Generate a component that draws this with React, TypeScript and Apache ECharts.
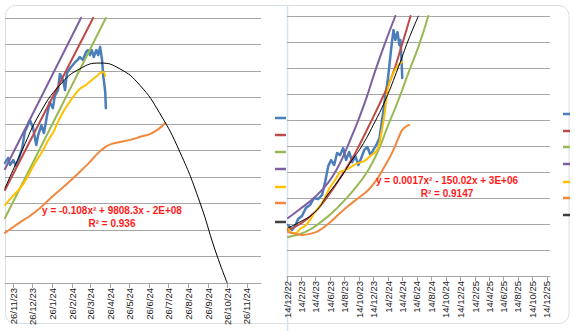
import React, { useEffect, useRef } from "react";
import * as echarts from "echarts";

// ---------- tick labels ----------
const leftTickLabels = ["26/11/23","26/12/23","26/1/24","26/2/24","26/3/24","26/4/24","26/5/24","26/6/24","26/7/24","26/8/24","26/9/24","26/10/24","26/11/24"];
const rightTickLabels = ["14/12/22","14/2/23","14/4/23","14/6/23","14/8/23","14/10/23","14/12/23","14/2/24","14/4/24","14/6/24","14/8/24","14/10/24","14/12/24","14/2/25","14/4/25","14/6/25","14/8/25","14/10/25","14/12/25"];
const leftRange = ["2023-11-13", "2024-12-18"];
const rightRange = ["2022-12-14", "2025-12-27"];

// ---------- left panel data ----------
const lBlueX = ["2023-11-13","2023-11-18","2023-11-21","2023-11-26","2023-11-30","2023-12-05","2023-12-10","2023-12-14","2023-12-19","2023-12-22","2023-12-27","2024-01-01","2024-01-04","2024-01-09","2024-01-13","2024-01-18","2024-01-22","2024-01-27","2024-01-30","2024-02-04","2024-02-07","2024-02-12","2024-02-15","2024-02-18","2024-02-23","2024-02-26","2024-03-02","2024-03-06","2024-03-09","2024-03-14","2024-03-19","2024-03-22","2024-03-25","2024-03-28","2024-03-31","2024-04-04","2024-04-07","2024-04-10","2024-04-13","2024-04-15","2024-04-18","2024-04-19"];
const lBlueY = [45.3,47.2,44.5,46.4,44.2,47.2,50.9,57.0,59.6,61.5,58.5,52.1,55.8,59.6,56.6,63.4,68.3,66.0,70.6,72.8,78.9,76.6,72.8,79.2,81.1,81.9,83.4,84.2,85.3,84.2,87.2,87.9,86.0,87.9,85.3,87.9,86.0,89.1,84.2,78.1,72.1,66.0];
const lYellowX = ["2023-11-13","2023-11-24","2023-12-07","2023-12-19","2023-12-30","2024-01-10","2024-01-19","2024-01-27","2024-02-04","2024-02-12","2024-02-20","2024-02-29","2024-03-09","2024-03-19","2024-03-28","2024-04-05","2024-04-10","2024-04-15","2024-04-18"];
const lYellowY = [29.4,32.5,35.8,40.4,45.3,49.4,53.6,56.6,60.8,64.5,67.5,70.6,73.2,74.7,76.6,78.1,79.2,79.6,78.1];
const lOrangeX = ["2023-11-13","2023-11-24","2023-12-07","2023-12-22","2024-01-07","2024-01-22","2024-02-07","2024-02-23","2024-03-09","2024-03-25","2024-04-07","2024-04-18","2024-04-28","2024-05-11","2024-05-27","2024-06-11","2024-06-27","2024-07-08","2024-07-16","2024-07-21"];
const lOrangeY = [18.9,20.8,23.0,25.3,28.3,31.7,35.1,38.5,41.9,45.7,49.1,51.3,52.5,53.2,54.0,55.1,56.2,57.7,59.2,60.4];
const lPurpleX = ["2023-11-13","2024-03-11"];
const lPurpleY = [43.0,100];
const lRedX = ["2023-11-13","2024-03-30"];
const lRedY = [35.1,100];
const lGreenX = ["2023-11-13","2024-04-19"];
const lGreenY = [24.5,100];
const lTrendX = ["2023-11-13","2023-12-10","2024-01-07","2024-02-07","2024-03-09","2024-04-10","2024-05-11","2024-06-11","2024-07-12","2024-08-13","2024-09-13","2024-10-07","2024-10-26"];
const lTrendY = [35.8,50.2,64.2,74.7,80.8,83.0,80.8,74.7,64.2,49.4,30.6,12.5,0];

// ---------- right panel data ----------
const rBlueX = ["2022-12-18","2023-01-04","2023-01-17","2023-01-30","2023-02-15","2023-03-04","2023-03-21","2023-04-07","2023-04-24","2023-05-11","2023-05-24","2023-06-06","2023-06-18","2023-07-01","2023-07-13","2023-07-26","2023-08-08","2023-08-20","2023-09-02","2023-09-15","2023-09-28","2023-10-11","2023-10-23","2023-11-05","2023-11-18","2023-12-01","2023-12-13","2023-12-26","2024-01-08","2024-01-16","2024-01-25","2024-02-02","2024-02-11","2024-02-19","2024-02-28","2024-03-07","2024-03-15","2024-03-24","2024-04-01","2024-04-05","2024-04-09","2024-04-13"];
const rBlueY = [19.6,17.7,19.2,21.9,23.1,26.2,27.3,30.0,29.6,31.2,36.2,42.3,44.6,42.7,47.3,46.5,49.2,44.6,47.7,43.8,46.2,42.7,45.4,48.5,49.6,46.5,48.5,50.4,53.1,58.1,63.8,69.6,74.6,81.2,88.8,94.6,90.8,93.8,88.8,90.8,85.0,76.2];
const rYellowX = ["2022-12-18","2023-01-04","2023-01-21","2023-02-07","2023-02-28","2023-03-21","2023-04-11","2023-05-02","2023-05-24","2023-06-14","2023-07-05","2023-07-26","2023-08-20","2023-09-15","2023-10-11","2023-11-05","2023-12-01","2023-12-22","2024-01-04","2024-01-16","2024-01-29","2024-02-06","2024-02-14","2024-03-02","2024-03-19","2024-04-05","2024-04-13"];
const rYellowY = [18.5,16.5,16.5,18.1,19.2,21.5,24.6,26.9,30.4,34.2,36.9,40.0,40.8,42.3,43.5,44.2,46.2,47.7,49.6,55.0,61.9,67.7,72.7,77.3,80.0,81.9,82.3];
const rOrangeX = ["2022-12-18","2023-01-17","2023-02-15","2023-03-21","2023-04-24","2023-06-06","2023-07-17","2023-08-29","2023-10-11","2023-11-22","2023-12-26","2024-01-21","2024-02-14","2024-03-07","2024-03-28","2024-04-13","2024-04-26","2024-05-13"];
const rOrangeY = [16.9,16.2,15.8,16.2,17.3,20.0,23.5,26.9,30.0,33.1,36.9,40.8,44.6,48.5,53.1,56.2,57.3,58.1];
const rPurpleX = ["2022-12-18","2023-02-07","2023-04-11","2023-06-05","2023-07-17","2023-08-20","2023-09-15","2023-10-11","2023-11-14","2023-12-22","2024-02-02","2024-03-15"];
const rPurpleY = [22.3,25.8,30.4,35.8,41.9,48.5,54.2,60.0,68.5,79.2,90.0,100];
const rRedX = ["2022-12-18","2023-02-07","2023-04-11","2023-06-05","2023-07-26","2023-09-11","2023-10-11","2023-11-22","2024-01-16","2024-02-28","2024-04-09","2024-05-18"];
const rRedY = [17.7,20.0,24.6,30.8,37.7,44.6,49.6,57.3,67.7,76.5,88.1,100];
const rGreenX = ["2022-12-18","2023-02-28","2023-05-07","2023-07-17","2023-09-28","2023-11-22","2024-01-04","2024-02-14","2024-03-28","2024-05-09","2024-06-20","2024-08-01"];
const rGreenY = [15.0,16.9,20.8,26.5,33.8,40.8,48.5,58.1,67.7,78.1,88.1,100];
const rTrendX = ["2022-12-18","2023-02-07","2023-04-11","2023-06-05","2023-07-30","2023-09-11","2023-10-23","2023-12-13","2024-02-02","2024-03-28","2024-05-09","2024-06-20"];
const rTrendY = [18.5,20.8,24.6,31.5,38.1,44.2,49.6,58.1,67.7,80.4,90.8,100];

const leftEquation = ["y = -0.108x² + 9808.3x - 2E+08", "R² = 0.936"];
const rightEquation = ["y = 0.0017x² - 150.02x + 3E+06", "R² = 0.9147"];

const COLORS = {
  blue: "#4a7ebb",
  red: "#be4b48",
  green: "#98b954",
  purple: "#7d60a0",
  yellow: "#ffc000",
  orange: "#f0883e",
  trend: "#000000",
};
const legendColors = [COLORS.blue, COLORS.red, COLORS.green, COLORS.purple, COLORS.yellow, COLORS.orange, "#404040"];

function ts(s: string): number {
  const [y, m, d] = s.split("-").map(Number);
  return Date.UTC(y, m - 1, d);
}
function tickTs(label: string): number {
  const [d, m, y] = label.split("/").map(Number);
  return Date.UTC(2000 + y, m - 1, d);
}
function pairs(xs: string[], ys: number[]) {
  return xs.map((x, i) => [ts(x), ys[i]]);
}

export default function App() {
  const ref = useRef<HTMLDivElement>(null);
  useEffect(() => {
    if (!ref.current) return;
    const chart = echarts.init(ref.current, undefined, { renderer: "svg" });
    const leftTicks = leftTickLabels.map(tickTs);
    const rightTicks = rightTickLabels.map(tickTs);
    const labelMap = new Map<number, string>();
    leftTickLabels.forEach((l, i) => labelMap.set(leftTicks[i], l));
    rightTickLabels.forEach((l, i) => labelMap.set(rightTicks[i], l));

    const gridColor = "#a6a6a6";
    const mkX = (idx: number, range: string[], ticks: number[]) => ({
      type: "value",
      gridIndex: idx,
      min: ts(range[0]),
      max: ts(range[1]),
      scale: true,
      splitLine: { show: false },
      axisLine: { show: true, onZero: false, lineStyle: { color: gridColor, width: 1 } },
      axisTick: { show: true, customValues: ticks, length: 5, lineStyle: { color: gridColor } },
      axisLabel: {
        customValues: ticks,
        rotate: 90,
        margin: 5,
        fontSize: 9.5,
        fontFamily: "Liberation Sans",
        color: "#1a1a1a",
        showMinLabel: true,
        showMaxLabel: true,
        hideOverlap: false,
        formatter: (v: number) => labelMap.get(Number(v)) ?? "",
      },
    });
    const mkY = (idx: number) => ({
      type: "value",
      gridIndex: idx,
      min: 0,
      max: 100,
      interval: 10,
      axisLabel: { show: false },
      axisLine: { show: false },
      axisTick: { show: false },
      splitLine: { show: true, lineStyle: { color: gridColor, width: 1 } },
    });
    const line = (idx: number, xs: string[], ys: number[], color: string, width: number, smooth: number | boolean) => ({
      type: "line",
      xAxisIndex: idx,
      yAxisIndex: idx,
      data: pairs(xs, ys),
      showSymbol: false,
      symbol: "none",
      smooth,
      lineStyle: { color, width, join: "round", cap: "round" },
      clip: true,
      silent: true,
    });

    const legendMarks = (x1: number, x2: number, ys: number[]) =>
      legendColors.map((c, i) => ({
        type: "line",
        shape: { x1, y1: ys[i], x2, y2: ys[i] },
        style: { stroke: c, lineWidth: 2.5 },
      }));

    const eqText = (lines: string[], cx: number, y: number) =>
      lines.map((t, i) => ({
        type: "text",
        x: cx,
        y: y + i * 13.5,
        style: {
          text: t,
          fill: "#ff1a1a",
          font: "bold 10px 'Liberation Sans'",
          align: "center",
          verticalAlign: "middle",
        },
        z: 100,
      }));

    chart.setOption({
      animation: false,
      backgroundColor: "#ffffff",
      grid: [
        { left: 5, top: 18, width: 256, height: 265 },
        { left: 287, top: 16, width: 263, height: 260 },
      ],
      xAxis: [mkX(0, leftRange, leftTicks), mkX(1, rightRange, rightTicks)],
      yAxis: [mkY(0), mkY(1)],
      series: [
        line(0, lBlueX, lBlueY, COLORS.blue, 2.5, false),
        line(0, lRedX, lRedY, COLORS.red, 2, false),
        line(0, lGreenX, lGreenY, COLORS.green, 2, false),
        line(0, lPurpleX, lPurpleY, COLORS.purple, 2, false),
        line(0, lYellowX, lYellowY, COLORS.yellow, 2, 0.3),
        line(0, lOrangeX, lOrangeY, COLORS.orange, 2, 0.3),
        line(0, lTrendX, lTrendY, COLORS.trend, 1, 0.5),
        line(1, rBlueX, rBlueY, COLORS.blue, 2.5, false),
        line(1, rRedX, rRedY, COLORS.red, 2, 0.5),
        line(1, rGreenX, rGreenY, COLORS.green, 2, 0.5),
        line(1, rPurpleX, rPurpleY, COLORS.purple, 2, 0.5),
        line(1, rYellowX, rYellowY, COLORS.yellow, 2, 0.3),
        line(1, rOrangeX, rOrangeY, COLORS.orange, 2, 0.4),
        line(1, rTrendX, rTrendY, COLORS.trend, 1, 0.5),
      ],
      graphic: [
        {
          type: "rect",
          shape: { x: 5.5, y: 5.5, width: 563.5, height: 318, r: 10 },
          style: { fill: "none", stroke: "#d9dee4", lineWidth: 1 },
          z: -1,
          silent: true,
        },
        {
          type: "line",
          shape: { x1: 287.5, y1: 5, x2: 287.5, y2: 331 },
          style: { stroke: "#d3e4f4", lineWidth: 1.5 },
          silent: true,
        },
        ...legendMarks(275, 286, [118, 135, 152, 169, 187, 203, 222]),
        ...legendMarks(563, 570, [114, 131, 147, 164, 182, 198, 215]),
        ...eqText(leftEquation, 112, 210),
        ...eqText(rightEquation, 447, 180),
      ],
    });
    return () => chart.dispose();
  }, []);
  return (
    <div
      ref={ref}
      style={{ position: "fixed", left: 0, top: 0, width: 575, height: 331, background: "#fff" }}
    />
  );
}
